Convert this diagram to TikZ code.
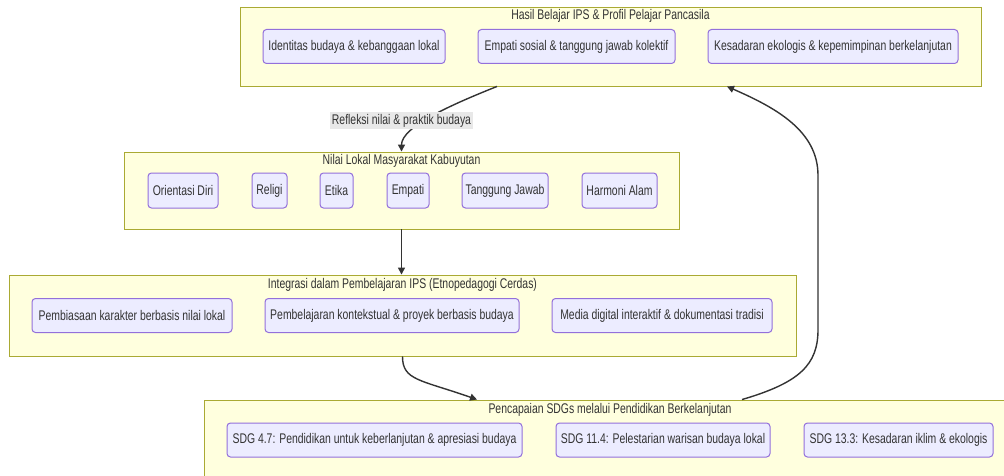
\documentclass[tikz,border=0pt]{standalone}
\usepackage{fontspec}
\setmainfont{Liberation Sans}[FakeStretch=0.745]
\usetikzlibrary{arrows.meta,calc}
\definecolor{clfill}{HTML}{FFFFDE}
\definecolor{cldraw}{HTML}{AAAA33}
\definecolor{ndfill}{HTML}{ECECFF}
\definecolor{nddraw}{HTML}{9370DB}
\definecolor{txt}{HTML}{333333}
\definecolor{lblfill}{HTML}{E8E8E8}
\begin{document}
\begin{tikzpicture}[x=1pt,y=-1pt,
 every node/.style={font=\fontsize{14}{16}\selectfont, text=txt},
 cluster/.style={draw=cldraw, fill=clfill, line width=0.9pt, inner sep=0pt},
 item/.style={draw=nddraw, fill=ndfill, rounded corners=3.5pt, line width=1pt, inner xsep=2pt, inner ysep=0pt, minimum height=34pt},
 title/.style={inner sep=0pt},
 edge/.style={draw=txt, line width=1.4pt, -{Triangle[length=7pt,width=7pt]}},
 elabel/.style={fill=lblfill, inner xsep=2pt, inner ysep=1.5pt}
]
\clip (0,0) rectangle (1004,476);
\fill[white] (0,0) rectangle (1004,476);
% clusters
\node[cluster, minimum width=741pt, minimum height=79pt] (hasil) at (610.5,46.5) {};
\node[cluster, minimum width=555pt, minimum height=77pt] (nilai) at (401.5,190.5) {};
\node[cluster, minimum width=787pt, minimum height=81pt] (integ) at (402.5,315.5) {};
\node[cluster, minimum width=812pt, minimum height=80pt] (penc) at (610,440) {};
% titles
\node[title] (thasil) at (610.5,16) {Hasil Belajar IPS \& Profil Pelajar Pancasila};
\node[title] (tnilai) at (401.5,161) {Nilai Lokal Masyarakat Kabuyutan};
\node[title] (tinteg) at (402.5,285) {Integrasi dalam Pembelajaran IPS (Etnopedagogi Cerdas)};
\node[title] (tpenc) at (610,410) {Pencapaian SDGs melalui Pendidikan Berkelanjutan};
% top nodes
\node[item, minimum width=182pt] (ident) at (354,46.5) {Identitas budaya \& kebanggaan lokal};
\node[item, minimum width=197pt] (empsos) at (576.5,46.5) {Empati sosial \& tanggung jawab kolektif};
\node[item, minimum width=250pt] (kesad) at (833,46.5) {Kesadaran ekologis \& kepemimpinan berkelanjutan};
% nilai nodes
\node[item, minimum width=70pt, minimum height=35pt] (orient) at (183,190.5) {Orientasi Diri};
\node[item, minimum width=35pt, minimum height=35pt] (religi) at (269.5,190.5) {Religi};
\node[item, minimum width=33pt, minimum height=35pt] (etika) at (336.5,190.5) {Etika};
\node[item, minimum width=42pt, minimum height=35pt] (empati) at (408,190.5) {Empati};
\node[item, minimum width=86pt, minimum height=35pt] (tangg) at (505,190.5) {Tanggung Jawab};
\node[item, minimum width=75pt, minimum height=35pt] (harmoni) at (619.5,190.5) {Harmoni Alam};
% integrasi nodes
\node[item, minimum width=200pt] (pemb) at (132,315.5) {Pembiasaan karakter berbasis nilai lokal};
\node[item, minimum width=254pt] (kontek) at (392,315.5) {Pembelajaran kontekstual \& proyek berbasis budaya};
\node[item, minimum width=220pt] (media) at (662,315.5) {Media digital interaktif \& dokumentasi tradisi};
% SDG nodes
\node[item, minimum width=295pt] (sdga) at (374.5,440) {SDG 4.7: Pendidikan untuk keberlanjutan \& apresiasi budaya};
\node[item, minimum width=214pt] (sdgb) at (663,440) {SDG 11.4: Pelestarian warisan budaya lokal};
\node[item, minimum width=189pt] (sdgc) at (898.5,440) {SDG 13.3: Kesadaran iklim \& ekologis};
% edges
\draw[edge] ($(hasil.south)+(-113.5,0)$) .. controls +(-45,18) and +(0,-25) .. (nilai.north);
\node[elabel] (lbl) at (401.5,120.5) {Refleksi nilai \& praktik budaya};
\draw[edge] (nilai.south) -- (nilai.south |- integ.north);
\draw[edge] (integ.south) .. controls +(0,24) and +(-57,-20) .. ($(penc.north)+(-133,0)$);
\draw[edge] ($(penc.north)+(132,0)$) .. controls +(58,-17) and +(0,35) .. ($(penc.north)+(208,-70)$)
  -- ($(hasil.south)+(207.5,89)$) .. controls +(0,-45) and +(48,21) .. ($(hasil.south)+(116.5,0)$);
\end{tikzpicture}
\end{document}
